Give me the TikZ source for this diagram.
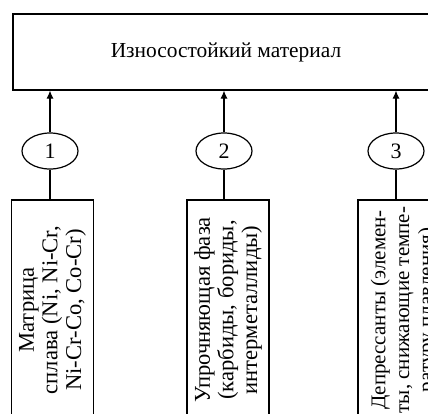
\documentclass[tikz,border=0pt]{standalone}
\usepackage{fontspec}
\setmainfont{Liberation Serif}
\usetikzlibrary{shapes.geometric,arrows.meta}

\begin{document}
\begin{tikzpicture}[x=0.5pt,y=-0.5pt,line width=0.6pt,
    mainbox/.style={draw,minimum width=213pt,minimum height=38pt,font=\fontsize{10.7}{12}\selectfont},
    numoval/.style={draw,ellipse,inner sep=0pt,minimum width=28pt,minimum height=18pt,font=\fontsize{11}{12}\selectfont},
    partbox/.style={draw,rotate=90,align=center,minimum width=110pt,minimum height=41pt,inner sep=1pt,font=\fontsize{11.3}{11.8}\selectfont},
    feed/.style={-{Latex[length=4pt,width=3.6pt]}}]
		\clip (0,0) rectangle (428,413);
		\useasboundingbox (0,0) rectangle (428,413);
		\node[mainbox] (mat) at (226,52) {Износостойкий материал};
		% numbered ovals
		\node[numoval] (e1) at (50,151) {1};
		\node[numoval] (e2) at (224,151) {2};
		\node[numoval] (e3) at (396,151) {3};
		% components
		\node[partbox] (b1) at (52.5,310) {Матрица\\сплава (Ni, Ni-Cr,\\Ni-Cr-Co, Co-Cr)};
		\node[partbox] (b2) at (228,310) {Упрочняющая фаза\\(карбиды, бориды,\\интерметаллиды)};
		\node[partbox,minimum height=46pt,font=\fontsize{10.5}{11.8}\selectfont] (b3) at (404,310) {Депрессанты (элемен-\\ты, снижающие темпе-\\ратуру плавления)};
		\foreach \i in {1,2,3}{
			\draw[feed] (e\i.north)--(e\i.north |- mat.south);
			\draw[] (e\i.south)--(e\i.south |- b\i.east);
		}
	\end{tikzpicture}
\end{document}
